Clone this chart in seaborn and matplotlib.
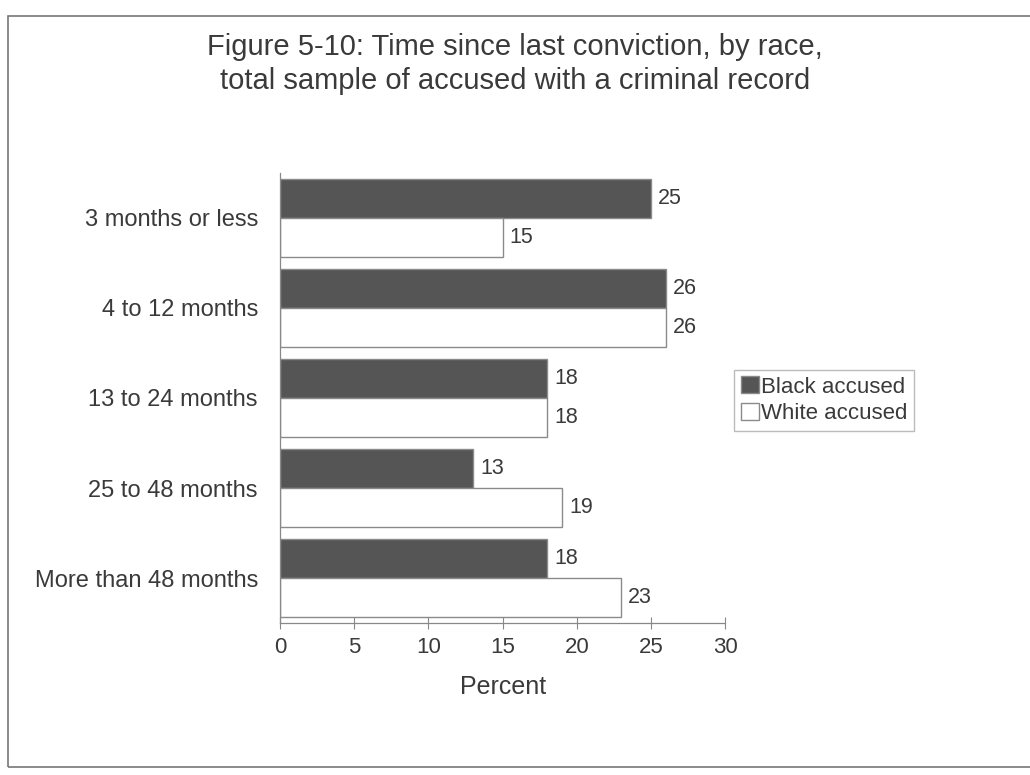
import pandas as pd
import numpy as np
import matplotlib.pyplot as plt
import seaborn as sns
from matplotlib.patches import Rectangle

# Data
kategori = ["3 months or less", "4 to 12 months", "13 to 24 months",
            "25 to 48 months", "More than 48 months"]
black_accused = [25, 26, 18, 13, 18]
white_accused = [15, 26, 18, 19, 23]
grup = ["Black accused", "White accused"]

df = pd.DataFrame({
    "Kategori": kategori * 2,
    "Percent": black_accused + white_accused,
    "Group": [grup[0]] * 5 + [grup[1]] * 5,
})

sns.set_theme(style="white")
plt.rcParams['font.family'] = ['Liberation Sans', 'DejaVu Sans']
teks = "#3a3a3a"

fig = plt.figure(figsize=(10.3, 7.75), dpi=100)
ax = fig.add_axes([0.272, 0.196, 0.432, 0.581])

sns.barplot(data=df, x="Percent", y="Kategori", hue="Group", orient="h",
            palette={grup[0]: "#555555", grup[1]: "#ffffff"},
            width=0.87, edgecolor="#8a8a8a", linewidth=1.0,
            ax=ax, legend=True)

for cont in ax.containers:
    ax.bar_label(cont, padding=5, fontsize=15.5, color=teks)

ax.set_xlim(0, 30)
ax.set_xticks(range(0, 31, 5))
ax.set_ylim(4.5, -0.5)
ax.set_xlabel("Percent", fontsize=18, color=teks, labelpad=12)
ax.set_ylabel("")
ax.tick_params(axis="x", labelsize=16, colors=teks, length=8, direction="inout",
               bottom=True, width=0.8, color="#888888", pad=6)
ax.tick_params(axis="x", labelcolor=teks)
ax.tick_params(axis="y", labelsize=17, colors=teks, length=0, pad=16)
for s in ["top", "right"]:
    ax.spines[s].set_visible(False)
for s in ["left", "bottom"]:
    ax.spines[s].set_color("#888888")
    ax.spines[s].set_linewidth(0.9)

# Legend
h, l = ax.get_legend_handles_labels()
ax.get_legend().remove()
leg = fig.legend(h, l, loc="upper left", bbox_to_anchor=(0.713, 0.523),
                 borderaxespad=0, fontsize=16, frameon=True, fancybox=False,
                 handlelength=0.8, handleheight=0.8, handletextpad=0.1,
                 borderpad=0.3, labelspacing=0.25, edgecolor="#aaaaaa")
for t in leg.get_texts():
    t.set_color(teks)

# Title
fig.text(0.5, 0.958, "Figure 5-10: Time since last conviction, by race,\n"
         "total sample of accused with a criminal record",
         ha="center", va="top", fontsize=21, color=teks, linespacing=1.3)

# Frame around the figure
fig.patches.append(Rectangle((0.008, 0.01), 0.995, 0.97, transform=fig.transFigure,
                             fill=False, edgecolor="#777777", linewidth=1.2))

fig.savefig("out.png", dpi=100)
